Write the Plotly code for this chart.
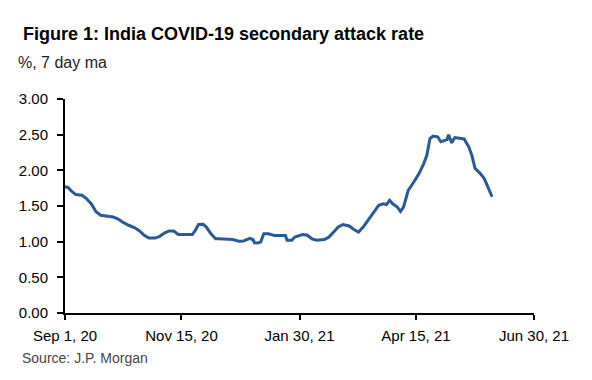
import pandas as pd
import plotly.graph_objects as go

# Days since Sep 1, 2020 and 7-day moving average secondary attack rate (%)
day_offsets = [0, 2, 4, 7, 11, 14, 17, 20, 23, 27, 31, 34, 37, 41, 45, 48, 51, 54, 58,
               61, 64, 67, 70, 73, 75, 77, 79, 82, 84, 86, 89, 91, 94, 97, 99, 104, 108,
               112, 115, 119, 121, 122, 124, 126, 128, 131, 135, 140, 142, 143, 146, 148,
               151, 153, 156, 159, 162, 167, 170, 173, 176, 179, 183, 186, 189, 192, 195,
               199, 202, 205, 207, 209, 211, 214, 216, 218, 221, 224, 228, 231, 233, 235,
               237, 240, 242, 246, 247, 249, 251, 254, 257, 260, 262, 264, 267, 270, 272, 275]
rate = [1.77, 1.76, 1.71, 1.66, 1.65, 1.60, 1.53, 1.42, 1.37, 1.355, 1.345, 1.32, 1.275,
        1.23, 1.195, 1.15, 1.09, 1.05, 1.05, 1.075, 1.12, 1.15, 1.15, 1.10, 1.10, 1.09,
        1.10, 1.10, 1.16, 1.24, 1.245, 1.205, 1.11, 1.04, 1.04, 1.04, 1.03, 1.005, 1.01,
        1.045, 1.03, 0.985, 0.98, 0.995, 1.11, 1.11, 1.085, 1.085, 1.085, 1.02, 1.02,
        1.065, 1.08, 1.10, 1.09, 1.04, 1.02, 1.03, 1.065, 1.135, 1.205, 1.24, 1.22, 1.17,
        1.135, 1.205, 1.30, 1.41, 1.51, 1.53, 1.52, 1.58, 1.53, 1.485, 1.425, 1.485, 1.72,
        1.815, 1.955, 2.095, 2.21, 2.445, 2.48, 2.47, 2.40, 2.43, 2.50, 2.385, 2.46, 2.45,
        2.44, 2.33, 2.21, 2.03, 1.965, 1.885, 1.78, 1.63]

tick_dates = ["2020-09-01", "2020-11-15", "2021-01-30", "2021-04-15", "2021-06-30"]
tick_labels = ["Sep 1, 20", "Nov 15, 20", "Jan 30, 21", "Apr 15, 21", "Jun 30, 21"]
y_ticks = [0, 0.5, 1.0, 1.5, 2.0, 2.5, 3.0]

dates = pd.Timestamp("2020-09-01") + pd.to_timedelta(day_offsets, unit="D")

fig = go.Figure()
fig.add_trace(go.Scatter(x=dates, y=rate, mode="lines",
                         line=dict(color="#285a96", width=3), hoverinfo="skip"))

font = "Liberation Sans, Arial, sans-serif"
PW, PH = 469, 214  # plot area size in px
fig.update_layout(
    width=592, height=380,
    margin=dict(l=57, r=66, t=91, b=75),
    paper_bgcolor="white", plot_bgcolor="white",
    showlegend=False,
    font=dict(family=font, color="black", size=14),
    xaxis=dict(range=["2020-09-01", "2021-06-30"], tickvals=tick_dates, ticktext=tick_labels,
               showgrid=False, zeroline=False, showline=True, linecolor="black", linewidth=2,
               ticks="outside", ticklen=5, tickwidth=2, tickcolor="black",
               ticklabelstandoff=3,
               tickfont=dict(size=15, color="black")),
    yaxis=dict(range=[0, 3], tickvals=y_ticks, tickformat=".2f",
               showgrid=False, zeroline=False, showline=True, linecolor="black", linewidth=2,
               ticks="outside", ticklen=6, tickwidth=2, tickcolor="black",
               ticklabelstandoff=6,
               tickfont=dict(size=15, color="black")),
)
fig.add_annotation(text="<b>Figure 1: India COVID-19 secondary attack rate</b>",
                   xref="paper", yref="paper", x=-44 / PW, y=(313 - 34) / PH,
                   xanchor="left", yanchor="middle", showarrow=False,
                   font=dict(size=18, color="black", family=font))
fig.add_annotation(text="%, 7 day ma",
                   xref="paper", yref="paper", x=-49 / PW, y=(313 - 63) / PH,
                   xanchor="left", yanchor="middle", showarrow=False,
                   font=dict(size=16, color="#222222", family=font))
fig.add_annotation(text="Source: J.P. Morgan",
                   xref="paper", yref="paper", x=-45 / PW, y=(313 - 358) / PH,
                   xanchor="left", yanchor="middle", showarrow=False,
                   font=dict(size=14, color="#444444", family=font))

fig.write_html("out.html")
